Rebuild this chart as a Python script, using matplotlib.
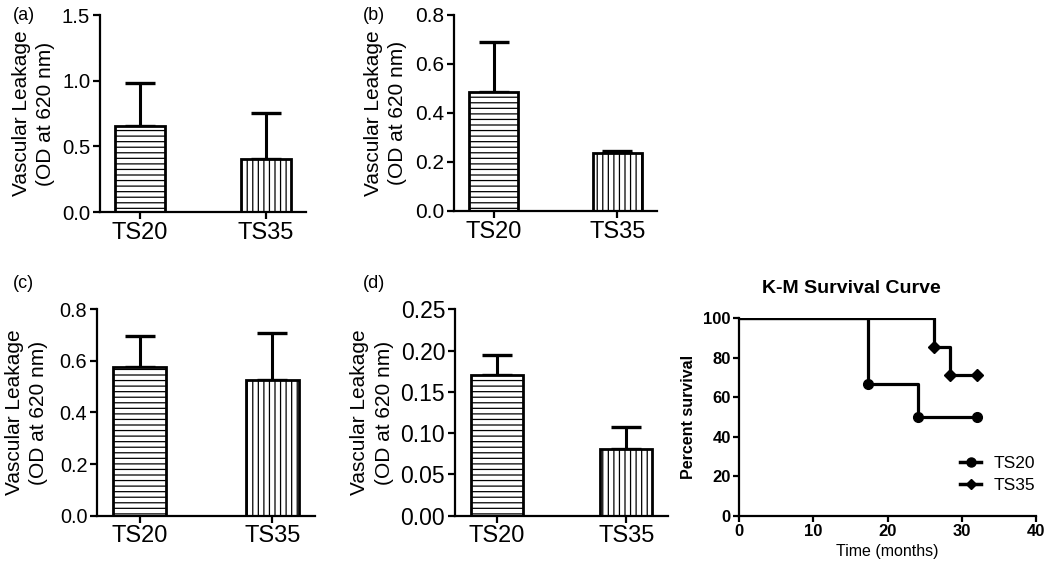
import matplotlib
matplotlib.use("Agg")
import matplotlib.pyplot as plt
import numpy as np
from matplotlib.lines import Line2D

plt.rcParams['font.family'] = ['Liberation Sans', 'DejaVu Sans']
plt.rcParams['hatch.linewidth'] = 0.9

# ---------------- data ----------------
groups = ["TS20", "TS35"]

a_means = [0.655, 0.400]
a_errs = [0.325, 0.356]
b_means = [0.484, 0.236]
b_errs = [0.203, 0.010]
c_means = [0.578, 0.526]
c_errs = [0.120, 0.183]
d_means = [0.170, 0.081]
d_errs = [0.025, 0.026]

a_ticks = [0.0, 0.5, 1.0, 1.5]
b_ticks = [0.0, 0.2, 0.4, 0.6, 0.8]
c_ticks = [0.0, 0.2, 0.4, 0.6, 0.8]
d_ticks = [0.00, 0.05, 0.10, 0.15, 0.20, 0.25]

ts20_time = [0, 17.4, 24.1, 32.1]
ts20_surv = [100, 66.7, 50.0, 50.0]
ts35_time = [0, 26.2, 28.4, 32.0]
ts35_surv = [100, 85.7, 71.4, 71.4]
km_xticks = [0, 10, 20, 30, 40]
km_yticks = [0, 20, 40, 60, 80, 100]

fig = plt.figure(figsize=(10.5, 5.69), dpi=100)

hatches = ['---', '|||']
ylabel = "Vascular Leakage\n(OD at 620 nm)"


def bar_panel(rect, means, errs, ticks, fmt, ysize, lpad):
    ax = fig.add_axes(rect)
    x = np.arange(len(groups))
    for i in range(len(groups)):
        ax.bar(x[i], means[i], width=0.4, color='white', edgecolor='black',
               linewidth=2, hatch=hatches[i], zorder=2)
    ax.errorbar(x, means, yerr=[np.zeros(len(errs)), errs], fmt='none',
                ecolor='black', elinewidth=2.2, capsize=11, capthick=2.4, zorder=1)
    ax.set_xlim(-0.32, 1.32)
    ax.set_ylim(ticks[0], ticks[-1])
    ax.set_yticks(ticks)
    ax.set_yticklabels([fmt % t for t in ticks])
    ax.set_xticks(x)
    ax.set_xticklabels(groups)
    for s in ['top', 'right']:
        ax.spines[s].set_visible(False)
    for s in ['left', 'bottom']:
        ax.spines[s].set_linewidth(1.6)
    ax.tick_params(axis='both', direction='out', length=5, width=1.6, pad=2)
    ax.tick_params(axis='x', labelsize=17)
    ax.tick_params(axis='y', labelsize=ysize)
    ax.set_ylabel(ylabel, fontsize=15, labelpad=lpad, linespacing=1.35)
    return ax


bar_panel([0.0952, 0.6274, 0.1962, 0.3462], a_means, a_errs, a_ticks, "%.1f", 14.6, 5)
bar_panel([0.4324, 0.6292, 0.1933, 0.3450], b_means, b_errs, b_ticks, "%.1f", 15, 5.5)
bar_panel([0.0924, 0.0937, 0.2076, 0.3627], c_means, c_errs, c_ticks, "%.1f", 14.3, 8.5)
bar_panel([0.4333, 0.0937, 0.2029, 0.3627], d_means, d_errs, d_ticks, "%.2f", 16.5, 5)

fig.text(0.0124, 0.9736, "(a)", fontsize=13, va='center', ha='left')
fig.text(0.3457, 0.9736, "(b)", fontsize=13, va='center', ha='left')
fig.text(0.0124, 0.5026, "(c)", fontsize=13, va='center', ha='left')
fig.text(0.3457, 0.5026, "(d)", fontsize=13, va='center', ha='left')

# ---------------- K-M panel ----------------
ax = fig.add_axes([0.7038, 0.0931, 0.2829, 0.3474])
ax.plot(ts20_time, ts20_surv, drawstyle='steps-post', color='black', lw=2.3,
        marker='o', markersize=7, markevery=list(range(1, len(ts20_time))),
        zorder=3)
ax.plot(ts35_time, ts35_surv, drawstyle='steps-post', color='black', lw=2.3,
        marker='D', markersize=6, markevery=list(range(1, len(ts35_time))),
        zorder=3)
ax.set_xlim(0, 40)
ax.set_ylim(0, 100)
ax.set_xticks(km_xticks)
ax.set_yticks(km_yticks)
for s in ['top', 'right']:
    ax.spines[s].set_visible(False)
for s in ['left', 'bottom']:
    ax.spines[s].set_linewidth(1.6)
ax.tick_params(axis='both', direction='out', length=4, width=1.6,
               labelsize=12, pad=2)
for lab in ax.get_xticklabels() + ax.get_yticklabels():
    lab.set_fontweight('bold')
ax.set_ylabel("Percent survival", fontsize=11.5, fontweight='bold', labelpad=5)
ax.set_xlabel("Time (months)", fontsize=11.5, labelpad=3)
ax.set_title("K-M Survival Curve", fontsize=14, fontweight='bold', pad=18,
             x=0.38)

handles = [Line2D([], [], color='black', lw=2.5, marker='o', markersize=6.5),
           Line2D([], [], color='black', lw=2.5, marker='D', markersize=5.5)]
ax.legend(handles, groups, loc='center left', bbox_to_anchor=(0.745, 0.21),
          frameon=False, fontsize=12.5, handlelength=1.2, handletextpad=0.7,
          labelspacing=0.35, borderaxespad=0, borderpad=0)

fig.savefig("out.png", dpi=100)
